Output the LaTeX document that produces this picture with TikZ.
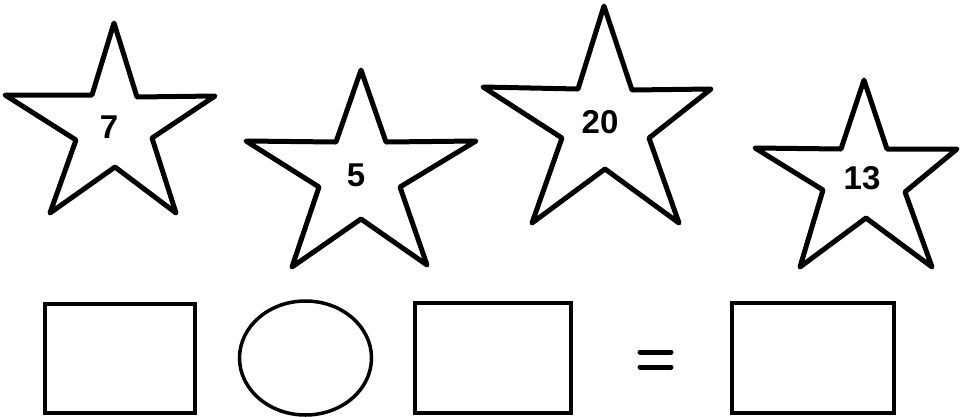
\documentclass[tikz,border=0pt]{standalone}
\usepackage{fontspec}
\setmainfont{Liberation Sans}
\begin{document}
\begin{tikzpicture}[x=1pt,y=-1pt,
  starline/.style={draw=black,line width=5pt,line join=round},
  boxline/.style={draw=black,line width=4pt},
  num/.style={inner sep=0pt,font=\fontsize{33}{36}\selectfont\bfseries}]
\useasboundingbox (0,0) rectangle (961,416);
% star 1
\draw[starline] (114,23) -- (137,97) -- (215,96) -- (152,138) -- (176,213) -- (115,167) -- (50,213) -- (76,140) -- (5,95) -- (92,95) -- cycle;
\node[num] (n7) at (109,127) {7};
% star 2
\draw[starline] (361,70) -- (386,142) -- (476,141) -- (400,187) -- (427,265) -- (361,219) -- (292,267) -- (319,187) -- (246,141) -- (336,142) -- cycle;
\node[num] (n5) at (356,175) {5};
% star 3
\draw[starline] (604,6) -- (632,90) -- (711,89) -- (649,138) -- (679,223) -- (605,169) -- (532,223) -- (562,138) -- (483,87) -- (578,89) -- cycle;
\node[num] (n20) at (600,122) {20};
% star 4
\draw[starline] (864,80) -- (887,149) -- (957,149) -- (905,192) -- (932,267) -- (866,218) -- (800,267) -- (823,190) -- (755,148) -- (841,149) -- cycle;
\node[num] (n13) at (862,178) {13};
% bottom row
\draw[boxline] (45,304) rectangle (195,413);
\draw[draw=black,line width=3.5pt] (305.5,358) ellipse [x radius=66, y radius=57];
\draw[boxline] (415,303) rectangle (571,413);
\draw[line width=5pt,line cap=round] (640,352) -- (671,352);
\draw[line width=5pt,line cap=round] (640,367) -- (671,367);
\draw[boxline] (732,303) rectangle (894,413);
\end{tikzpicture}
\end{document}
